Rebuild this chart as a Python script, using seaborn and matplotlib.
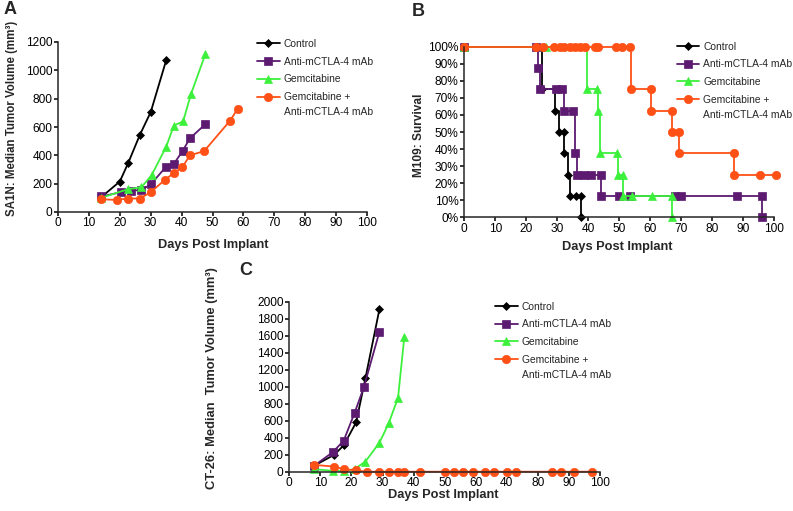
import matplotlib
matplotlib.use("Agg")
import matplotlib.pyplot as plt
import pandas as pd
import seaborn as sns

# ------------------------------------------
# Data
# ------------------------------------------
groups = ["Control", "Anti-mCTLA-4 mAb", "Gemcitabine", "Gemcitabine + Anti-mCTLA-4 mAb"]
legend_labels = ["Control", "Anti-mCTLA-4 mAb", "Gemcitabine", "Gemcitabine +"]
legend_second_line = "Anti-mCTLA-4 mAb"

# Panel A: SA1N median tumor volume
a_ctrl_day = [14, 20, 22.7, 26.5, 30, 35]
a_ctrl_vol = [105, 215, 345, 545, 705, 1070]
a_anti_day = [14, 20.5, 23.5, 27, 30, 35, 37.5, 40.3, 42.7, 47.7]
a_anti_vol = [110, 140, 150, 155, 195, 320, 340, 430, 520, 620]
a_gem_day = [14, 22.5, 27, 30.3, 35, 37.5, 40.5, 43, 47.7]
a_gem_vol = [100, 160, 175, 260, 460, 610, 640, 830, 1115]
a_combo_day = [14, 19, 22.5, 26.5, 30, 34.5, 37.5, 40.2, 42.7, 47.3, 55.7, 58.2]
a_combo_vol = [90, 85, 95, 95, 140, 225, 275, 315, 400, 430, 645, 730]

# Panel B: M109 survival (step curves)
b_ctrl_day = [0, 25, 29.3, 30.6, 32.2, 32.2, 33.5, 34.2, 36, 37.5, 37.5]
b_ctrl_surv = [100, 75, 62.5, 50, 50, 37.5, 25, 12.5, 12.5, 12.5, 0]
b_anti_day = [0, 23, 23.7, 24.4, 29.5, 31.5, 32.3, 35, 35.7, 36.3, 38.5, 41, 44, 44,
              50, 53.5, 68, 70, 88, 96, 96]
b_anti_surv = [100, 100, 87.5, 75, 75, 75, 62.5, 62.5, 37.5, 25, 25, 25, 25, 12.5,
               12.5, 12.5, 12.5, 12.5, 12.5, 12.5, 0]
b_gem_day = [0, 26.5, 39.5, 42.7, 43.2, 43.8, 49.4, 49.6, 51.1, 51.3, 54, 60.5, 67, 67]
b_gem_surv = [100, 100, 75, 75, 62.5, 37.5, 37.5, 25, 25, 12.5, 12.5, 12.5, 12.5, 0]
b_combo_day = [0, 23, 25.5, 29, 31, 32, 34, 35.7, 37.3, 39, 42.2, 43, 49, 51, 53.3,
               53.8, 60.2, 60.2, 66.9, 66.9, 69.3, 69.3, 87.1, 87.1, 95.4, 100.4]
b_combo_surv = [100, 100, 100, 100, 100, 100, 100, 100, 100, 100, 100, 100, 100, 100, 100,
                75, 75, 62.5, 62.5, 50, 50, 37.5, 37.5, 25, 25, 25]

# Panel C: CT-26 median tumor volume
c_ctrl_day = [8, 14.5, 17.5, 21.5, 24.5, 29]
c_ctrl_vol = [70, 200, 310, 580, 1100, 1910]
c_anti_day = [8, 14, 17.5, 21, 24, 29]
c_anti_vol = [70, 230, 365, 690, 995, 1645]
c_gem_day = [8, 14, 17.5, 21, 24.5, 29, 32, 35, 37]
c_gem_vol = [30, 10, 10, 30, 120, 340, 570, 870, 1580]
c_combo_day = [8, 14.5, 17.5, 21.5, 25, 29, 32, 35, 37, 42, 50, 53, 56, 59, 63, 66,
               70, 73, 84.5, 87.5, 91.5, 97.5]
c_combo_vol = [80, 60, 30, 15, 0, 0, 0, 0, 0, 0, 0, 0, 0, 0, 0, 0,
               0, 0, 0, 0, 0, 0]

# Tick labels
day_ticks = [0, 10, 20, 30, 40, 50, 60, 70, 80, 90, 100]
day_labels_ab = ["0", "10", "20", "30", "40", "50", "60", "70", "80", "90", "100"]
day_labels_c = ["0", "10", "20", "30", "40", "50", "60", "40", "80", "90", "100"]
a_vol_ticks = [0, 200, 400, 600, 800, 1000, 1200]
b_surv_ticks = [0, 10, 20, 30, 40, 50, 60, 70, 80, 90, 100]
b_surv_labels = ["0%", "10%", "20%", "30%", "40%", "50%", "60%", "70%", "80%", "90%", "100%"]
c_vol_ticks = [0, 200, 400, 600, 800, 1000, 1200, 1400, 1600, 1800, 2000]

# ------------------------------------------
# Style
# ------------------------------------------
colors = {"Control": "#000000", "Anti-mCTLA-4 mAb": "#5C1A70",
          "Gemcitabine": "#3CF03C", "Gemcitabine + Anti-mCTLA-4 mAb": "#FF5016"}
markers = {"Control": "D", "Anti-mCTLA-4 mAb": "s",
           "Gemcitabine": "^", "Gemcitabine + Anti-mCTLA-4 mAb": "o"}
msizes = {"Control": 3.8, "Anti-mCTLA-4 mAb": 6.0,
          "Gemcitabine": 6.3, "Gemcitabine + Anti-mCTLA-4 mAb": 6.0}

sns.set_style("ticks")
plt.rcParams["font.family"] = ["Liberation Sans", "DejaVu Sans"]

W, H = 793, 511
fig = plt.figure(figsize=(W / 100, H / 100), dpi=100)


def px_axes(x0, x1, ytop, ybot):
    return fig.add_axes([x0 / W, 1 - ybot / H, (x1 - x0) / W, (ybot - ytop) / H])


def long_df(pairs):
    rows = []
    for g, (d, v) in zip(groups, pairs):
        rows.append(pd.DataFrame({"day": d, "value": v, "group": g}))
    return pd.concat(rows, ignore_index=True)


def draw_panel(ax, df, step=False):
    for g in groups:
        sub = df[df["group"] == g]
        kw = dict(drawstyle="steps-post") if step else {}
        sns.lineplot(data=sub, x="day", y="value", ax=ax, color=colors[g],
                     marker=markers[g], markersize=msizes[g],
                     markeredgecolor=colors[g], markeredgewidth=0.5,
                     linewidth=1.3, estimator=None, sort=False,
                     label=g, clip_on=False, **kw)
    sns.despine(ax=ax)
    for s in ["left", "bottom"]:
        ax.spines[s].set_linewidth(1.1)
    ax.tick_params(axis="both", direction="out", length=3, width=1.1,
                   labelsize=8.6, colors="black")
    ax.tick_params(axis="x", pad=0.8)
    ax.tick_params(axis="y", pad=1.2)
    ax.set_xlabel("")
    ax.set_ylabel("")


def add_legend(ax, x_px, y_px):
    h, _ = ax.get_legend_handles_labels()
    leg = ax.legend(h, legend_labels, loc="upper left",
                    bbox_to_anchor=(x_px / W, 1 - y_px / H),
                    bbox_transform=fig.transFigure, frameon=False,
                    fontsize=7.4, handlelength=2.2, handletextpad=0.4,
                    labelspacing=0.75, borderpad=0, borderaxespad=0)
    ax.annotate(legend_second_line, xy=(0, 0), xycoords=leg.get_texts()[-1],
                xytext=(0, -3.6), textcoords="offset points", ha="left", va="top",
                fontsize=7.4, annotation_clip=False, zorder=6)


# ------------------------------------------
# Panel A
# ------------------------------------------
ax_a = px_axes(58, 367, 42, 212)
df_a = long_df([(a_ctrl_day, a_ctrl_vol), (a_anti_day, a_anti_vol),
                (a_gem_day, a_gem_vol), (a_combo_day, a_combo_vol)])
draw_panel(ax_a, df_a)
ax_a.set_xlim(0, 100)
ax_a.set_ylim(0, 1200)
ax_a.set_xticks(day_ticks, day_labels_ab)
ax_a.set_yticks(a_vol_ticks)
add_legend(ax_a, 257, 39)

# ------------------------------------------
# Panel B
# ------------------------------------------
ax_b = px_axes(464.3, 774.3, 46.7, 217.3)
df_b = long_df([(b_ctrl_day, b_ctrl_surv), (b_anti_day, b_anti_surv),
                (b_gem_day, b_gem_surv), (b_combo_day, b_combo_surv)])
draw_panel(ax_b, df_b, step=True)
ax_b.set_xlim(0, 100)
ax_b.set_ylim(0, 100)
ax_b.set_xticks(day_ticks, day_labels_ab)
ax_b.set_yticks(b_surv_ticks, b_surv_labels)
add_legend(ax_b, 676.7, 41.5)

# ------------------------------------------
# Panel C
# ------------------------------------------
ax_c = px_axes(289.3, 600, 301.7, 471.7)
df_c = long_df([(c_ctrl_day, c_ctrl_vol), (c_anti_day, c_anti_vol),
                (c_gem_day, c_gem_vol), (c_combo_day, c_combo_vol)])
draw_panel(ax_c, df_c)
ax_c.set_xlim(0, 100)
ax_c.set_ylim(0, 2000)
ax_c.set_xticks(day_ticks, day_labels_c)
ax_c.set_yticks(c_vol_ticks)
add_legend(ax_c, 495, 301.5)

# ------------------------------------------
# Axis titles and panel letters
# ------------------------------------------
lab = dict(fontsize=9.2, fontweight="bold", ha="center", va="center")
ylab = dict(fontweight="bold", ha="center", va="center", rotation=90)
fig.text(12.5 / W, 1 - 118 / H, "SA1N: Median Tumor Volume (mm³)", fontsize=8.3, **ylab)
fig.text(419 / W, 1 - 135 / H, "M109: Survival", fontsize=8.6, **ylab)
fig.text(212.5 / W, 1 - 378 / H, "CT-26: Median  Tumor Volume (mm³)", fontsize=9.3, **ylab)
fig.text(213 / W, 1 - 245 / H, "Days Post Implant", **lab)
fig.text(617 / W, 1 - 247 / H, "Days Post Implant", **lab)
fig.text(443 / W, 1 - 495 / H, "Days Post Implant", **lab)

let = dict(fontsize=13, fontweight="bold", ha="left", va="top")
fig.text(4 / W, 1 - 1 / H, "A", **let)
fig.text(412 / W, 1 - 3 / H, "B", **let)
fig.text(239 / W, 1 - 262 / H, "C", **let)

fig.savefig("out.png", dpi=100)
